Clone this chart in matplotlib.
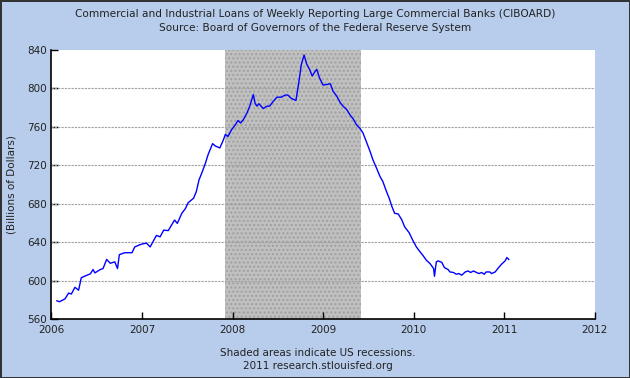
import matplotlib
matplotlib.use("Agg")
import matplotlib.pyplot as plt

# Decimal-year dates and values (billions of dollars)
dates = [2006.06, 2006.09, 2006.15, 2006.19, 2006.22, 2006.26, 2006.30, 2006.33, 2006.39, 2006.43,
         2006.46, 2006.48, 2006.54, 2006.57, 2006.61, 2006.65, 2006.70, 2006.73, 2006.75, 2006.81,
         2006.89, 2006.92, 2006.97, 2007.00, 2007.05, 2007.09, 2007.16, 2007.20, 2007.24, 2007.29,
         2007.36, 2007.39, 2007.44, 2007.48, 2007.51, 2007.57, 2007.60, 2007.63, 2007.66, 2007.70,
         2007.73, 2007.78, 2007.81, 2007.86, 2007.90, 2007.92, 2007.95, 2007.99, 2008.03, 2008.06,
         2008.09, 2008.12, 2008.16, 2008.19, 2008.23, 2008.25, 2008.27, 2008.29, 2008.34, 2008.38,
         2008.41, 2008.45, 2008.49, 2008.54, 2008.58, 2008.61, 2008.65, 2008.70, 2008.73, 2008.76,
         2008.79, 2008.82, 2008.85, 2008.88, 2008.91, 2008.93, 2008.96, 2009.00, 2009.04, 2009.08,
         2009.11, 2009.15, 2009.19, 2009.22, 2009.26, 2009.30, 2009.33, 2009.37, 2009.41, 2009.44,
         2009.48, 2009.52, 2009.55, 2009.59, 2009.63, 2009.66, 2009.70, 2009.73, 2009.76, 2009.79,
         2009.83, 2009.87, 2009.90, 2009.95, 2009.99, 2010.03, 2010.07, 2010.10, 2010.14, 2010.18,
         2010.22, 2010.23, 2010.25, 2010.27, 2010.31, 2010.34, 2010.38, 2010.40, 2010.44, 2010.47,
         2010.50, 2010.53, 2010.57, 2010.60, 2010.63, 2010.66, 2010.69, 2010.72, 2010.75, 2010.78,
         2010.80, 2010.84, 2010.86, 2010.90, 2010.93, 2010.97, 2011.01, 2011.03, 2011.05]
values = [579, 578, 581, 587, 586, 593, 590, 603, 605.5, 607,
          611.5, 608, 611.5, 612.5, 622, 618, 619.5, 612.5, 627, 629,
          629, 635, 637, 638, 639, 635, 647, 645.5, 652.5, 652,
          663, 659.5, 670, 675, 681, 685.7, 692.6, 704.8, 711.8, 722,
          731, 742.5, 740, 738, 746.6, 752, 750, 757, 762, 766.5,
          764, 767.5, 774.5, 781.5, 793.6, 784, 781.5, 784, 779, 781.5,
          781.5, 786.6, 790.8, 790.8, 793, 793, 789.5, 787.4, 805, 825,
          834.7, 825, 819.8, 812.8, 817.4, 819.8, 811, 803.4, 804, 804.8,
          797, 792, 785, 781.5, 778, 772, 768.5, 762, 758, 753.6,
          744, 734, 725.7, 717, 708, 703, 692.6, 685.7, 677, 670,
          669.3, 663, 656, 649.8, 642, 635, 630, 626.5, 621.2, 617.8,
          612.6, 604.5, 619.5, 620.5, 619, 613.5, 611.5, 609, 608.4, 606.6,
          607.3, 605.6, 609, 610, 608.4, 610, 608.7, 607.3, 608.4, 606.6,
          609, 609, 607.3, 609, 612.6, 617, 620.5, 624, 622]

recession_start = 2007.917
recession_end = 2009.417

x_ticks = [2006, 2007, 2008, 2009, 2010, 2011, 2012]
y_ticks = [560, 600, 640, 680, 720, 760, 800, 840]

title = ("Commercial and Industrial Loans of Weekly Reporting Large Commercial Banks (CIBOARD)\n"
         "Source: Board of Governors of the Federal Reserve System")
ylabel = "(Billions of Dollars)"
footer = "Shaded areas indicate US recessions.\n2011 research.stlouisfed.org"

bg = "#B7CDEB"
fig = plt.figure(figsize=(6.3, 3.78), dpi=100, facecolor=bg)
fig.patch.set_edgecolor("#333333")
fig.patch.set_linewidth(1.0)
ax = fig.add_axes([0.0816, 0.156, 0.8625, 0.712])
ax.set_facecolor("white")

ax.axvspan(recession_start, recession_end, facecolor="#C0C0C0", edgecolor="#A0A0A0",
           hatch="....", linewidth=0, zorder=1)
for yv in y_ticks[1:-1]:
    ax.axhline(yv, color="#A0A0A0", linestyle=(0, (2, 1)), linewidth=0.8, zorder=2)

ax.plot(dates, values, color="#0000FF", linewidth=1.0, zorder=3)

ax.set_xlim(2006, 2012)
ax.set_ylim(560, 840)
ax.set_xticks(x_ticks)
ax.set_xticklabels([str(t) for t in x_ticks])
ax.set_yticks(y_ticks)
ax.set_yticklabels([str(t) for t in y_ticks])
ax.tick_params(direction="in", length=5, width=1, colors="black", labelsize=7.5,
               labelcolor="#222222")
ax.tick_params(axis="x", pad=4)
ax.tick_params(axis="y", pad=3)
for s in ["top", "right"]:
    ax.spines[s].set_visible(False)
for s in ["left", "bottom"]:
    ax.spines[s].set_linewidth(1.2)
    ax.spines[s].set_zorder(5)

ax.set_ylabel(ylabel, fontsize=7.5, color="#222222", labelpad=8)

fig.text(0.5, 0.976, title, ha="center", va="top", fontsize=7.6, color="#222222",
         linespacing=1.45)
fig.text(0.505, 0.08, footer, ha="center", va="top", fontsize=7.5, color="#222222",
         linespacing=1.45)

fig.savefig("out.png", dpi=100, facecolor=fig.get_facecolor(), edgecolor=fig.patch.get_edgecolor())
